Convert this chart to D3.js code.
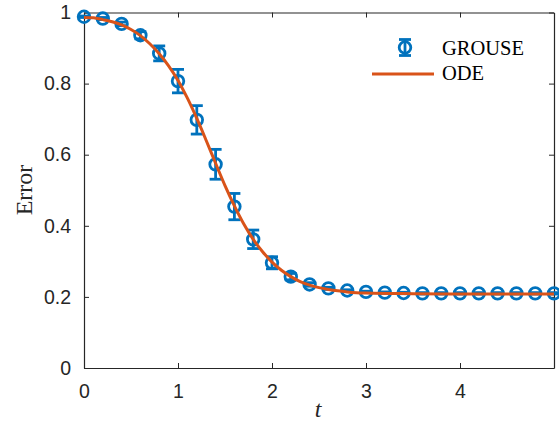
<!DOCTYPE html>
<html>
<head>
<meta charset="utf-8">
<script src="https://cdn.jsdelivr.net/npm/d3@7"></script>
<style>
  body { margin: 0; background: #fff; }
  .tick text { font-family: "Liberation Sans", Arial, sans-serif; font-size: 19.5px; fill: #262626; }
</style>
</head>
<body>
<script>
const w = 559; // width
const h = 427; // height

// GROUSE samples (mean and error bar half-width)
const tPoints = [0, 0.2, 0.4, 0.6, 0.8, 1.0, 1.2, 1.4, 1.6, 1.8, 2.0, 2.2, 2.4, 2.6, 2.8, 3.0, 3.2, 3.4, 3.6, 3.8, 4.0, 4.2, 4.4, 4.6, 4.8, 5.0];
const grouse = [0.988, 0.983, 0.968, 0.936, 0.885, 0.807, 0.698, 0.573, 0.454, 0.362, 0.296, 0.257, 0.235, 0.224, 0.218, 0.214, 0.212, 0.211, 0.210, 0.210, 0.210, 0.210, 0.210, 0.210, 0.210, 0.210];
const grouseErr = [0.002, 0.003, 0.005, 0.010, 0.021, 0.033, 0.040, 0.042, 0.037, 0.026, 0.017, 0.009, 0.005, 0.003, 0.002, 0.002, 0.002, 0.002, 0.002, 0.002, 0.002, 0.002, 0.002, 0.002, 0.002, 0.002];

// ODE curve
const tOde = [0, 0.1, 0.2, 0.3, 0.4, 0.5, 0.6, 0.7, 0.8, 0.9, 1.0, 1.1, 1.2, 1.3, 1.4, 1.5, 1.6, 1.7, 1.8, 1.9, 2.0, 2.1, 2.2, 2.3, 2.4, 2.5, 2.6, 2.7, 2.8, 2.9, 3.0, 3.5, 4.0, 4.5, 5.0];
const ode = [0.986, 0.985, 0.980, 0.974, 0.965, 0.952, 0.935, 0.912, 0.884, 0.850, 0.809, 0.759, 0.702, 0.640, 0.576, 0.513, 0.456, 0.405, 0.362, 0.327, 0.298, 0.275, 0.257, 0.243, 0.233, 0.226, 0.221, 0.217, 0.214, 0.212, 0.211, 0.209, 0.208, 0.208, 0.208];

const xTicks = [0, 1, 2, 3, 4];
const yTicks = [0, 0.2, 0.4, 0.6, 0.8, 1];
const yTickLabels = ["0", "0.2", "0.4", "0.6", "0.8", "1"];

const blue = "#0072BD";
const orange = "#D95319";
const axisColor = "#262626";

let svg = d3.select("body")
    .append("svg")
    .attr("width", w)
    .attr("height", h);

// scales
let x = d3.scaleLinear().domain([0, 5]).range([84, 554]);
let y = d3.scaleLinear().domain([0, 1]).range([368, 12.5]);

// axes, ticks pointing inward
let axisB = d3.axisBottom(x).tickValues(xTicks).tickFormat(d3.format("d")).tickSizeInner(-5).tickSizeOuter(0).tickPadding(16);
let axisL = d3.axisLeft(y).tickValues(yTicks).tickFormat((d, i) => yTickLabels[i]).tickSizeInner(-5).tickSizeOuter(0).tickPadding(13);
let axisT = d3.axisTop(x).tickValues(xTicks).tickFormat("").tickSizeInner(-5).tickSizeOuter(0);
let axisR = d3.axisRight(y).tickValues(yTicks).tickFormat("").tickSizeInner(-5).tickSizeOuter(0);

function styleAxis(g) {
    g.select(".domain").attr("stroke", axisColor).attr("stroke-width", 1.2);
    g.selectAll(".tick line").attr("stroke", axisColor).attr("stroke-width", 1);
}

svg.append("g").attr("transform", `translate(0,${y(0)})`).call(axisB).call(styleAxis);
svg.append("g").attr("transform", `translate(${x(0)},0)`).call(axisL).call(styleAxis);
svg.append("g").attr("transform", `translate(0,${y(1)})`).call(axisT).call(styleAxis);
svg.append("g").attr("transform", `translate(${x(5)},0)`).call(axisR).call(styleAxis);

// error bars
const capW = 6;
let pts = tPoints.map((t, i) => ({ t: t, v: grouse[i], e: grouseErr[i] }));
let eb = svg.append("g")
    .attr("stroke", blue)
    .attr("stroke-width", 2.8)
    .attr("fill", "none");

pts.forEach((d) => {
    let cx = x(d.t);
    let y1 = y(d.v + d.e), y2 = y(d.v - d.e);
    eb.append("line").attr("x1", cx).attr("x2", cx).attr("y1", y1).attr("y2", y2);
    eb.append("line").attr("x1", cx - capW).attr("x2", cx + capW).attr("y1", y1).attr("y2", y1);
    eb.append("line").attr("x1", cx - capW).attr("x2", cx + capW).attr("y1", y2).attr("y2", y2);
});

eb.selectAll("circle")
    .data(pts)
    .enter()
    .append("circle")
    .attr("cx", (d) => x(d.t))
    .attr("cy", (d) => y(d.v))
    .attr("r", 5.8);

// ODE line
let line = d3.line()
    .x((d) => x(d[0]))
    .y((d) => y(d[1]))
    .curve(d3.curveMonotoneX);

svg.append("path")
    .datum(tOde.map((t, i) => [t, ode[i]]))
    .attr("d", line)
    .attr("fill", "none")
    .attr("stroke", orange)
    .attr("stroke-width", 3);

// legend
let lg = svg.append("g");
let mx = 405, my = 47.5;
lg.append("line").attr("x1", mx).attr("x2", mx).attr("y1", my - 8).attr("y2", my + 8)
    .attr("stroke", blue).attr("stroke-width", 2.8);
lg.append("line").attr("x1", mx - capW).attr("x2", mx + capW).attr("y1", my - 8).attr("y2", my - 8)
    .attr("stroke", blue).attr("stroke-width", 2.8);
lg.append("line").attr("x1", mx - capW).attr("x2", mx + capW).attr("y1", my + 8).attr("y2", my + 8)
    .attr("stroke", blue).attr("stroke-width", 2.8);
lg.append("circle").attr("cx", mx).attr("cy", my).attr("r", 5.8)
    .attr("fill", "none").attr("stroke", blue).attr("stroke-width", 2.8);
lg.append("line").attr("x1", 372).attr("x2", 434).attr("y1", 74).attr("y2", 74)
    .attr("stroke", orange).attr("stroke-width", 3);

lg.selectAll("text")
    .data(["GROUSE", "ODE"])
    .enter()
    .append("text")
    .attr("x", 442)
    .attr("y", (d, i) => [54.5, 79.5][i])
    .attr("font-family", "'Liberation Serif', 'DejaVu Serif', serif")
    .attr("font-size", 20.5)
    .attr("fill", "#000")
    .text((d) => d);

// axis labels
svg.append("text")
    .attr("text-anchor", "middle")
    .attr("transform", "rotate(-90)")
    .attr("x", -190)
    .attr("y", 32)
    .attr("font-family", "'Liberation Serif', 'DejaVu Serif', serif")
    .attr("font-size", 24)
    .attr("fill", "#262626")
    .text("Error");

svg.append("text")
    .attr("text-anchor", "middle")
    .attr("x", 318)
    .attr("y", 417)
    .attr("font-family", "'Liberation Serif', serif")
    .attr("font-style", "italic")
    .attr("font-size", 24)
    .attr("fill", "#262626")
    .text("t");
</script>
</body>
</html>
